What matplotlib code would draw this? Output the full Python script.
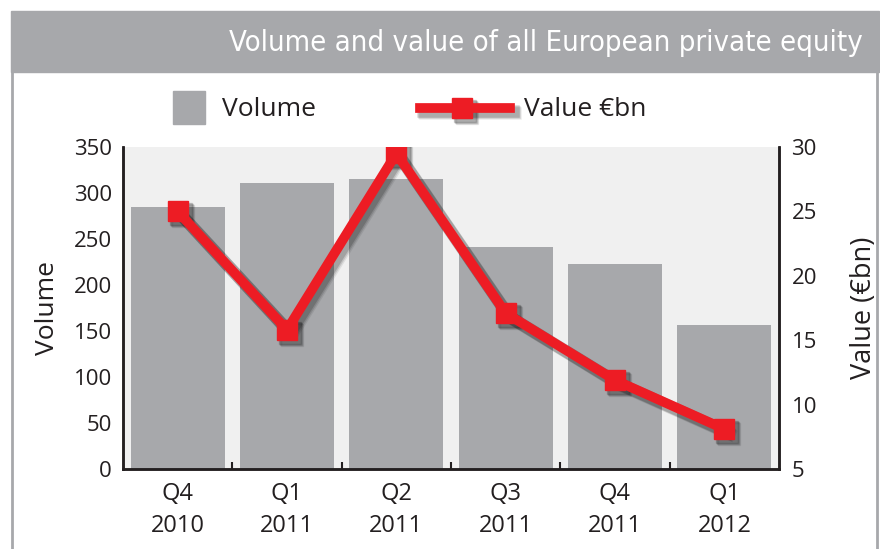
import numpy as np
import matplotlib
matplotlib.use("Agg")
import matplotlib.pyplot as plt
import matplotlib.transforms as mtransforms
from matplotlib.patches import Rectangle
from matplotlib.lines import Line2D

# data
quarters = ["Q4\n2010", "Q1\n2011", "Q2\n2011", "Q3\n2011", "Q4\n2011", "Q1\n2012"]
volume = [285, 311, 315, 241, 223, 157]
value_bn = [25.0, 15.8, 29.5, 17.1, 11.9, 8.1]

grey = "#a7a8ab"
red = "#ed1c24"
dark = "#231f20"
plt.rcParams["font.family"] = ["Open Sans", "DejaVu Sans"]

fig = plt.figure(figsize=(8.8, 5.49), dpi=100)
W, H = 880, 549

def fx(px):
    return px / W

def fy(py):
    return 1 - py / H

# title banner and outer frame
fig.patches.append(Rectangle((fx(11), fy(72)), fx(868), 61 / H, transform=fig.transFigure,
                             color=grey, zorder=0))
fig.lines.append(Line2D([fx(12), fx(12)], [fy(72), 0], transform=fig.transFigure,
                        color=grey, lw=2))
fig.lines.append(Line2D([fx(877), fx(877)], [fy(72), 0], transform=fig.transFigure,
                        color=grey, lw=2))
fig.text(fx(863), fy(43), "Volume and value of all European private equity",
         ha="right", va="center", color="white", fontsize=21,
         family=["DejaVu Sans"], fontstretch="condensed")

ax = fig.add_axes([fx(123), fy(469), 656 / W, 322 / H])
ax.set_facecolor("#f0f0f0")
x = np.arange(len(quarters))
ax.bar(x, volume, width=0.86, color=grey, zorder=2)
ax.set_xlim(-0.5, len(quarters) - 0.5)
ax.set_ylim(0, 350)
ax.set_yticks(np.arange(0, 351, 50))
ax.set_ylabel("Volume", fontsize=19, color=dark, labelpad=10)

ax.set_xticks(x[:-1] + 0.5)
ax.set_xticklabels([])
ax.tick_params(axis="x", which="major", direction="in", length=5, width=1.5, color=dark)
ax.set_xticks(x, minor=True)
ax.set_xticklabels(quarters, minor=True, fontsize=17, color=dark, linespacing=1.45)
ax.tick_params(axis="x", which="minor", length=0, pad=9)
ax.tick_params(axis="y", length=0, pad=8, labelsize=16, labelcolor=dark)

for s in ["left", "bottom", "right"]:
    ax.spines[s].set_color(dark)
    ax.spines[s].set_linewidth(1.8)
ax.spines["top"].set_visible(False)

ax2 = ax.twinx()
ax2.set_ylim(5, 30)
ax2.set_yticks(np.arange(5, 31, 5))
ax2.tick_params(axis="y", length=0, pad=9, labelsize=16, labelcolor=dark)
ax2.set_ylabel("Value (€bn)", fontsize=19.5, color=dark, labelpad=24)
for s in ["left", "bottom", "right"]:
    ax2.spines[s].set_color(dark)
    ax2.spines[s].set_linewidth(1.8)
ax2.spines["top"].set_visible(False)

# soft drop shadow under the value line, then the line itself
for off, a in [(5, 0.08), (4, 0.12), (3, 0.16)]:
    sh = mtransforms.offset_copy(ax2.transData, fig=fig, x=off, y=-off, units="dots")
    ax2.plot(x, value_bn, color="black", alpha=a, lw=9, marker="s", markersize=16,
             transform=sh, zorder=3)
ax2.plot(x, value_bn, color=red, lw=7, marker="s", markersize=15, mec=red,
         solid_joinstyle="miter", zorder=4)

# legend
fig.patches.append(Rectangle((fx(173), fy(124)), fx(32), 33 / H, transform=fig.transFigure,
                             color=grey))
fig.text(fx(222), fy(109), "Volume", fontsize=19, va="center", color=dark)
for off, a in [(5, 0.08), (4, 0.12), (3, 0.16)]:
    fig.lines.append(Line2D([fx(420 + off), fx(462 + off), fx(510 + off)], [fy(108 + off)] * 3,
                            transform=fig.transFigure, color="black", alpha=a, lw=9,
                            marker="s", markersize=16, markevery=[1]))
fig.lines.append(Line2D([fx(420), fx(462), fx(510)], [fy(108)] * 3, transform=fig.transFigure,
                        color=red, lw=7, marker="s", markersize=15, markevery=[1]))
fig.text(fx(524), fy(109), "Value €bn", fontsize=19, va="center", color=dark)

fig.savefig("out.png", dpi=100)
